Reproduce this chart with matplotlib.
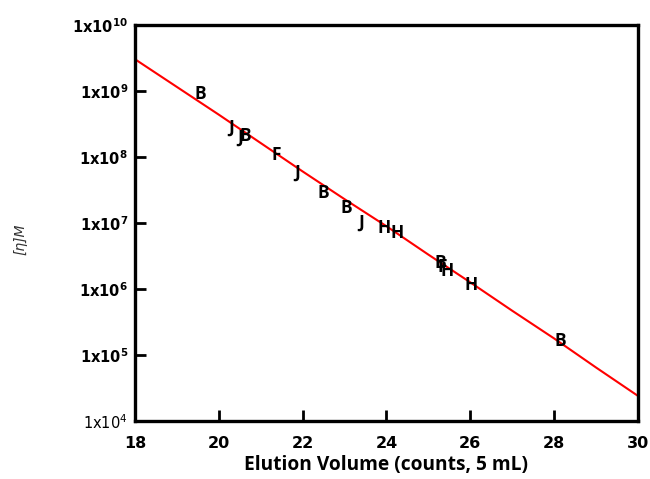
import matplotlib
matplotlib.use('Agg')
import matplotlib.pyplot as plt
import numpy as np

plt.rcParams['mathtext.fontset'] = 'dejavusans'

# calibration line (elution volume vs log10 [eta]M)
line_x = [18, 19, 20, 21, 22, 23, 24, 25, 26, 27, 28, 29, 30]
line_logy = [9.48, 9.06, 8.64, 8.21, 7.78, 7.36, 6.95, 6.52, 6.10, 5.67, 5.25, 4.81, 4.38]

# letter markers for the standards
lab_text = ['B', 'J', 'J', 'B', 'F', 'J', 'B', 'B', 'J', 'H', 'H', 'B', 'F', 'H', 'H', 'B']
lab_x = [19.55, 20.29, 20.5, 20.64, 21.38, 21.88, 22.5, 23.05, 23.4, 23.95, 24.26,
         25.28, 25.33, 25.45, 26.02, 28.14]
lab_logy = [8.95, 8.44, 8.29, 8.32, 8.03, 7.76, 7.45, 7.23, 7.0, 6.92, 6.85,
            6.39, 6.33, 6.27, 6.06, 5.21]

xticks = [18, 20, 22, 24, 26, 28, 30]
yticks = [1e4, 1e5, 1e6, 1e7, 1e8, 1e9, 1e10]

fig = plt.figure(figsize=(6.5, 4.79), dpi=100)
ax = fig.add_axes([0.2077, 0.1211, 0.7738, 0.8269])

ax.plot(line_x, 10 ** np.array(line_logy), color='#ff0000', lw=1.5)
for t, x, ly in zip(lab_text, lab_x, lab_logy):
    ax.text(x, 10 ** ly, t, ha='center', va='center', fontsize=12.5,
            fontweight='bold', family='Open Sans', color='black')

ax.set_yscale('log')
ax.set_xlim(18, 30)
ax.set_ylim(1e4, 1e10)
ax.set_xticks(xticks)
ax.set_xticklabels([str(v) for v in xticks], fontsize=11.5, fontweight='bold')
ax.set_yticks(yticks)
ylabs = []
for v in yticks:
    e = int(round(np.log10(v)))
    if e == 4:
        ylabs.append(r'$\mathrm{1x10^{4}}$')
    else:
        ylabs.append(r'$\mathbf{1x10^{%d}}$' % e)
ax.set_yticklabels(ylabs, fontsize=10.5)
ax.minorticks_off()
ax.tick_params(axis='both', direction='in', length=8, width=2, top=False, right=False)
ax.tick_params(axis='x', pad=11)
ax.tick_params(axis='y', pad=5)
for s in ax.spines.values():
    s.set_linewidth(2.4)

ax.set_xlabel('Elution Volume (counts, 5 mL)', fontsize=13.8, fontweight='bold',
              family='Open Sans', labelpad=3)
fig.text(0.032, 0.5, '[η]M', rotation=90, fontsize=10, style='italic',
         color='#333333', ha='center', va='center')

fig.savefig('out.png', dpi=100)
